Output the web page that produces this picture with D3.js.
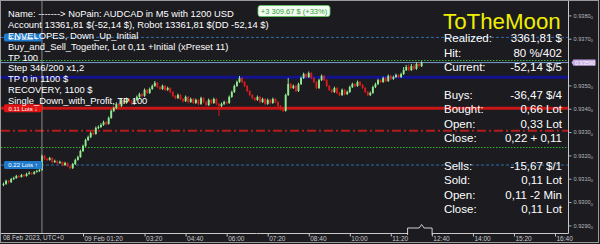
<!DOCTYPE html>
<html><head><meta charset="utf-8">
<script src="https://cdn.jsdelivr.net/npm/d3@7"></script>
<style>
html,body{margin:0;padding:0;background:#1b1b20;}
svg{display:block;font-family:"Liberation Sans",Arial,sans-serif;}
</style>
</head><body>
<svg id="c" width="600" height="244"></svg>
<script>
// ---------------- data ----------------
const candleStart = "2023-02-08T22:45:00Z";
const candleMinutes = 5;
const priceBase = 0.93;          // prices below are in points (0.00001) above this base
const pointSize = 0.00001;
const firstOpen = 66;
const closes = [70,83,78,91,
95,104,100,108,104,113,117,113,121,125,130,
190,
177,173,181,164,168,160,164,151,160,147,138,
155,173,185,211,
233,258,271,288,
284,310,314,323,
335,327,353,383,
395,413,404,430,
417,434,425,413,430,
443,455,447,473,460,477,
490,503,485,
477,490,473,481,
464,447,438,
451,434,425,443,421,434,
417,430,413,438,421,408,430,417,434,413,
404,413,421,
417,443,464,490,507,
524,
507,490,468,451,438,
430,443,421,434,413,430,417,434,421,404,391,
383,
451,
498,
481,490,468,
498,524,541,
528,545,524,
507,481,515,533,
515,490,473,464,
481,460,451,473,455,464,
485,498,490,507,494,
481,464,451,460,485,
498,515,507,
524,511,533,520,528,
537,528,541,
558,571,558,
575,563,584,575,
590];
const highs = [76,88,87,96,
101,109,108,113,112,118,124,121,126,131,136,
196,
194,182,186,184,174,171,170,167,165,163,150,
160,178,191,217,
238,264,277,294,
293,316,321,330,
341,339,359,389,
401,420,418,436,
434,440,438,429,436,
449,461,459,479,477,483,
496,511,507,
489,496,494,487,
485,468,451,
457,455,438,449,447,440,
438,436,434,444,442,425,436,434,440,438,
418,419,427,
425,449,470,496,513,
533,
528,511,494,472,455,
442,449,447,440,438,436,434,440,438,425,408,
395,
457,
524,
503,496,494,
504,530,547,
545,552,549,
528,511,521,539,
537,519,494,477,
487,485,464,479,477,470,
491,504,502,513,511,
498,485,468,466,491,
504,521,519,
530,528,539,537,534,
543,541,547,
571,580,583,
584,583,592,590,
596];
const lows = [60,66,72,74,
87,92,96,97,99,101,110,109,110,118,121,
126,
172,168,170,158,160,154,156,146,147,141,133,
134,151,170,182,
207,229,254,266,
278,281,305,310,
319,321,324,349,
378,391,399,400,
412,413,419,408,409,
426,439,442,443,455,456,
473,486,480,
472,473,468,469,
459,442,432,
434,429,419,421,415,417,
412,413,407,409,416,402,404,411,413,407,
361,399,408,
411,413,439,460,486,
503,
502,485,463,446,432,
424,426,415,417,407,409,411,413,416,398,385,
377,
380,
447,
476,477,463,
464,494,520,
523,524,519,
502,476,477,511,
510,485,468,459,
460,455,446,447,450,451,
460,481,485,486,489,
476,459,446,447,456,
481,494,502,
503,506,507,515,516,
524,523,524,
537,554,553,
554,558,559,570,
571];

// 0.9360 is hidden behind the bid label in the reference
const priceTicks = [0.929,0.930,0.931,0.932,0.933,0.934,0.935,0.937,0.938];
const bidPrice = 0.93590;
const bidLabel = "0.93590";

const timeTicks = ["2023-02-09T01:20:00Z","2023-02-09T03:20:00Z","2023-02-09T04:40:00Z","2023-02-09T06:00:00Z",
  "2023-02-09T07:20:00Z","2023-02-09T08:40:00Z","2023-02-09T10:00:00Z","2023-02-09T11:20:00Z",
  "2023-02-09T12:40:00Z","2023-02-09T14:00:00Z","2023-02-09T15:20:00Z","2023-02-09T16:40:00Z"];
const timeTickLabels = ["09 Feb 01:20","03:20","04:40","06:00","07:20","08:40","10:00","11:20","12:40","14:00","15:20","16:40"];
const firstTimeLabel = "08 Feb 2023, UTC+0";
const daySeparator = "2023-02-09T00:00:00Z";

const levelPrices = [0.93698, 0.93599, 0.93527, 0.93394, 0.93298, 0.93226, 0.93151];
const levelKinds  = ["blueDash","greenDot","navy","redSolid","redDashDot","greenDot","blueDash"];

const orderPrices = [0.93698, 0.93394, 0.93151];
const orderLabels = ["0.11 Lots \u2191", "0.11 Lots \u2193", "0.22 Lots \u2191"];
const orderSides  = ["buy","sell","buy"];

const profitBadge = "+3 309.67 $ (+33%)";

const infoLines = [
  "Name: -------> NoPain: AUDCAD in M5 with 1200 USD",
  "Account 13361,81 $(-52,14 $), Robot 13361,81 $(DD -52,14 $)",
  "ENVELOPES, Down_Up_Initial",
  "Buy_and_Sell_Together, Lot 0,11 +Initial (xPreset 11)",
  "TP 100",
  "Step 346/200 x1,2",
  "TP 0 in 1100 $",
  "RECOVERY, 1100 $",
  "Single_Down_with_Profit, TP 100"
];

const panelTitle = "ToTheMoon";
const panelLabels = ["Realized:","Hit:","Current:","","Buys:","Bought:","Open:","Close:","","Sells:","Sold:","Open:","Close:"];
const panelValues = ["3361,81 $","80 %/402","-52,14 $/5","","-36,47 $/4","0,66 Lot","0,33 Lot","0,22 + 0,11","","-15,67 $/1","0,11 Lot","0,11 -2 Min","0,11 Lot"];

// ---------------- layout / styles ----------------
const W = 600, H = 244;
const plotRight = 568.5, axisY = 233.5;
const bg = "#1b1b20";
const levelStyle = {
  blueDash:   {stroke:"#2f6eaa", w:1, dash:"3,2"},
  greenDot:   {stroke:"#33b833", w:1, dash:"1.5,1.5"},
  navy:       {stroke:"#13138f", w:3, dash:null},
  redSolid:   {stroke:"#c81616", w:3, dash:null},
  redDashDot: {stroke:"#b41c1c", w:2, dash:"9,3,2,3"}
};

const svg = d3.select("#c");
svg.append("rect").attr("width",W).attr("height",H).attr("fill",bg);

const toPrice = v => priceBase + v * pointSize;
const y = d3.scaleLinear().domain([0.929, 0.938]).range([223.6, 13.6]);
const x = d3.scaleUtc()
  .domain([new Date("2023-02-09T01:20:00Z"), new Date("2023-02-09T16:40:00Z")])
  .range([83, 555]);

const plot = svg.append("g");

// horizontal levels
levelPrices.forEach((p, i) => {
  const s = levelStyle[levelKinds[i]];
  plot.append("line")
    .attr("x1", 1).attr("x2", plotRight)
    .attr("y1", y(p)).attr("y2", y(p))
    .attr("stroke", s.stroke).attr("stroke-width", s.w)
    .attr("stroke-dasharray", s.dash);
});
// bid line
plot.append("line").attr("x1",1).attr("x2",plotRight)
  .attr("y1", y(bidPrice)).attr("y2", y(bidPrice))
  .attr("stroke","#7f9ed4").attr("stroke-width",1);

// candles
const start = new Date(candleStart).getTime();
const candles = closes.map((c, i) => ({
  t: new Date(start + i * candleMinutes * 60000),
  o: toPrice(i ? closes[i-1] : firstOpen),
  c: toPrice(c), h: toPrice(highs[i]), l: toPrice(lows[i])
}));
const bull = "#8fec8f", bear = "#d41c1c";
const cg = plot.append("g");
cg.selectAll("line").data(candles).join("line")
  .attr("x1", d => x(d.t)).attr("x2", d => x(d.t))
  .attr("y1", d => y(d.h)).attr("y2", d => y(d.l))
  .attr("stroke", d => d.c >= d.o ? bull : bear).attr("stroke-width", 1);
cg.selectAll("rect").data(candles).join("rect")
  .attr("x", d => x(d.t) - 0.95).attr("width", 1.9)
  .attr("y", d => y(Math.max(d.o, d.c)))
  .attr("height", d => Math.max(0.8, Math.abs(y(d.o) - y(d.c))))
  .attr("fill", d => d.c >= d.o ? bull : bear);

// day separator
const sepX = x(new Date(daySeparator));
plot.append("line").attr("x1",sepX).attr("x2",sepX).attr("y1",1).attr("y2",axisY)
  .attr("stroke","#a8a8a8").attr("stroke-width",0.8);

// order labels
orderPrices.forEach((p, i) => {
  const g = plot.append("g").attr("transform", `translate(4,${y(p)})`);
  g.append("rect").attr("x",0).attr("y",-4).attr("width",38).attr("height",8).attr("rx",1.5)
    .attr("fill", orderSides[i] === "buy" ? "#1f7acb" : "#e01414");
  g.append("text").attr("x",19).attr("y",2.2).attr("text-anchor","middle")
    .attr("font-size",6).attr("fill","#fff").text(orderLabels[i]);
});

// frame lines
svg.append("line").attr("x1",plotRight).attr("x2",plotRight).attr("y1",0).attr("y2",axisY)
  .attr("stroke","#c8c8c8").attr("stroke-width",1);
svg.append("line").attr("x1",0).attr("x2",plotRight).attr("y1",axisY).attr("y2",axisY)
  .attr("stroke","#c8c8c8").attr("stroke-width",1);
svg.append("rect").attr("x",0.5).attr("y",0.5).attr("width",598).attr("height",242)
  .attr("fill","none").attr("stroke","#9a9a9a").attr("stroke-width",1);

// right price axis
const ay = svg.append("g").attr("transform",`translate(${plotRight},0)`)
  .call(d3.axisRight(y).tickValues(priceTicks).tickSize(3).tickPadding(2)
    .tickFormat(d => d3.format(".4f")(d)));
ay.select(".domain").remove();
ay.selectAll(".tick").attr("transform", d => `translate(0,${y(d) + 2.3})`);
ay.selectAll(".tick line").attr("stroke","#b0b0b0");
ay.selectAll(".tick text").attr("fill","#b8b8b8").attr("font-size",5.6)
  .attr("font-family","'Liberation Sans',Arial,sans-serif")
  .append("tspan").attr("font-size",4.4).attr("dy",1.2).text("0");

// bid label
const bg2 = svg.append("g").attr("transform",`translate(${plotRight + 3},${y(bidPrice)})`);
bg2.append("path").attr("d","M0,0 L2,-3.2 H24 V3.2 H2 Z").attr("fill","#c6a9e2");
bg2.append("text").attr("x",13.5).attr("y",2).attr("text-anchor","middle")
  .attr("font-size",5.6).attr("fill","#fff").text(bidLabel);

// bottom time axis
const ax = svg.append("g").attr("transform",`translate(0,${axisY})`)
  .call(d3.axisBottom(x).tickValues(timeTicks.map(s => new Date(s))).tickSize(3).tickPadding(1)
    .tickFormat((d, i) => timeTickLabels[i]));
ax.select(".domain").remove();
ax.selectAll(".tick line").attr("stroke","#c8c8c8");
ax.selectAll(".tick text").attr("text-anchor","start").attr("x",1).attr("y",3.2)
  .attr("fill","#c8c8c8").attr("font-size",6.5)
  .attr("font-family","'Liberation Sans',Arial,sans-serif");
svg.append("text").attr("x",3).attr("y",axisY + 6.8).attr("fill","#c8c8c8")
  .attr("font-size",6.5).text(firstTimeLabel);

// shift marker at last candle
const lx = x(candles[candles.length - 1].t);
svg.append("path")
  .attr("d", `M${lx-14},${axisY+1.5} V${axisY-5.5} H${lx-2.5} L${lx},${axisY-9} L${lx+2.5},${axisY-5.5} H${lx+10.5} V${axisY+1.5}`)
  .attr("fill", bg).attr("stroke","#e6e6e6").attr("stroke-width",0.9);

// profit badge
svg.append("rect").attr("x",258).attr("y",5.5).attr("width",72).attr("height",11).attr("rx",2.5)
  .attr("fill","#f3fbf3").attr("stroke","#5cc65c").attr("stroke-width",0.8);
svg.append("text").attr("x",294).attr("y",13.6).attr("text-anchor","middle")
  .attr("font-size",7.5).attr("fill","#2f9e2f").text(profitBadge);

// info text
svg.append("g").selectAll("text").data(infoLines).join("text")
  .attr("x", 8).attr("y", (d, i) => 17.3 + i * 10.82)
  .attr("font-size", 9.4).attr("fill", "#ffffff").text(d => d);

// right panel
svg.append("text").attr("x",443).attr("y",29.3).attr("font-size",22.3)
  .attr("fill","#eeee00").text(panelTitle);
const pg = svg.append("g");
pg.selectAll("text.l").data(panelLabels).join("text").attr("class","l")
  .attr("x",444).attr("y",(d,i) => 42.3 + i * 14.2)
  .attr("font-size",11.5).attr("fill","#fff").text(d => d);
pg.selectAll("text.v").data(panelValues).join("text").attr("class","v")
  .attr("x",562).attr("y",(d,i) => 42.3 + i * 14.2).attr("text-anchor","end")
  .attr("font-size",11.5).attr("fill","#fff").text(d => d);
</script>
</body></html>
